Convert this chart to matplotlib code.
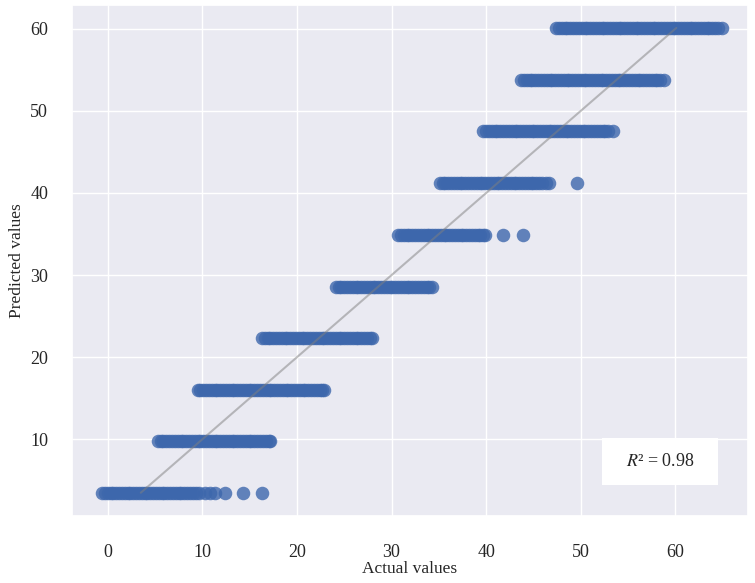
import matplotlib
matplotlib.use('Agg')
import matplotlib.pyplot as plt
from matplotlib.patches import Rectangle
import seaborn as sns

# predicted levels (y) and the actual values (x) seen at each level
levels = [3.5, 9.8, 16.0, 22.3, 28.6, 34.9, 41.2, 47.5, 53.8, 60.1]

actual_by_level = [
    [-0.6, -0.3, 0.0, 0.3, 0.6, 0.9, 1.2, 1.5, 1.8, 2.1, 2.4, 2.7, 3.0, 3.3, 3.6,
     3.9, 4.2, 4.5, 4.8, 5.1, 5.4, 5.7, 6.0, 6.3, 6.6, 6.9, 7.2, 7.5, 7.8, 8.1,
     8.4, 8.7, 9.0, 9.3, 9.7, 10.3, 10.8, 11.3, 12.4, 14.3, 16.3],
    [5.3, 5.6, 5.9, 6.2, 6.5, 6.8, 7.1, 7.4, 7.7, 8.0, 8.3, 8.6, 8.9, 9.2, 9.5,
     9.8, 10.1, 10.4, 10.7, 11.0, 11.3, 11.6, 11.9, 12.2, 12.5, 12.8, 13.1, 13.4,
     13.7, 14.0, 14.3, 14.6, 14.9, 15.2, 15.5, 15.8, 16.1, 16.4, 16.7, 17.0, 17.2],
    [9.5, 9.8, 10.1, 10.4, 10.7, 11.0, 11.3, 11.6, 11.9, 12.2, 12.5, 12.8, 13.1,
     13.4, 13.7, 14.0, 14.3, 14.6, 14.9, 15.2, 15.5, 15.8, 16.1, 16.4, 16.7, 17.0,
     17.3, 17.6, 17.9, 18.2, 18.5, 18.8, 19.1, 19.4, 19.7, 20.0, 20.3, 20.6, 20.9,
     21.2, 21.5, 21.8, 22.1, 22.4, 22.7, 22.9],
    [16.3, 16.6, 16.9, 17.2, 17.5, 17.8, 18.1, 18.4, 18.7, 19.0, 19.3, 19.6, 19.9,
     20.2, 20.5, 20.8, 21.1, 21.4, 21.7, 22.0, 22.3, 22.6, 22.9, 23.2, 23.5, 23.8,
     24.1, 24.4, 24.7, 25.0, 25.3, 25.6, 25.9, 26.2, 26.5, 26.8, 27.1, 27.4, 27.7, 27.9],
    [24.1, 24.4, 24.7, 25.0, 25.3, 25.6, 25.9, 26.2, 26.5, 26.8, 27.1, 27.4, 27.7,
     28.0, 28.3, 28.6, 28.9, 29.2, 29.5, 29.8, 30.1, 30.4, 30.7, 31.0, 31.3, 31.6,
     31.9, 32.2, 32.5, 32.8, 33.1, 33.4, 33.7, 34.0, 34.3],
    [30.7, 31.0, 31.3, 31.6, 31.9, 32.2, 32.5, 32.8, 33.1, 33.4, 33.7, 34.0, 34.3,
     34.6, 34.9, 35.2, 35.5, 35.8, 36.1, 36.4, 36.7, 37.0, 37.3, 37.6, 37.9, 38.2,
     38.5, 38.8, 39.1, 39.4, 39.7, 39.9, 41.8, 43.9],
    [35.1, 35.4, 35.7, 36.0, 36.3, 36.6, 36.9, 37.2, 37.5, 37.8, 38.1, 38.4, 38.7,
     39.0, 39.3, 39.6, 39.9, 40.2, 40.5, 40.8, 41.1, 41.4, 41.7, 42.0, 42.3, 42.6,
     42.9, 43.2, 43.5, 43.8, 44.1, 44.4, 44.7, 45.0, 45.3, 45.6, 45.9, 46.3, 46.6, 49.6],
    [39.7, 40.0, 40.3, 40.6, 40.9, 41.2, 41.5, 41.8, 42.1, 42.4, 42.7, 43.0, 43.3,
     43.6, 43.9, 44.2, 44.5, 44.8, 45.1, 45.4, 45.7, 46.0, 46.3, 46.6, 46.9, 47.2,
     47.5, 47.8, 48.1, 48.4, 48.7, 49.0, 49.3, 49.6, 49.9, 50.2, 50.5, 50.8, 51.1,
     51.4, 51.7, 52.0, 52.3, 52.6, 52.9, 53.4],
    [43.7, 44.0, 44.3, 44.6, 44.9, 45.2, 45.5, 45.8, 46.1, 46.4, 46.7, 47.0, 47.3,
     47.6, 47.9, 48.2, 48.5, 48.8, 49.1, 49.4, 49.7, 50.0, 50.3, 50.6, 50.9, 51.2,
     51.5, 51.8, 52.1, 52.4, 52.7, 53.0, 53.3, 53.6, 53.9, 54.2, 54.5, 54.8, 55.1,
     55.4, 55.7, 56.0, 56.3, 56.6, 56.9, 57.2, 57.5, 57.8, 58.1, 58.4, 58.8],
    [47.4, 47.7, 48.0, 48.3, 48.6, 48.9, 49.2, 49.5, 49.8, 50.1, 50.4, 50.7, 51.0,
     51.3, 51.6, 51.9, 52.2, 52.5, 52.8, 53.1, 53.4, 53.7, 54.0, 54.3, 54.6, 54.9,
     55.2, 55.5, 55.8, 56.1, 56.4, 56.7, 57.0, 57.3, 57.6, 57.9, 58.2, 58.5, 58.8,
     59.1, 59.4, 59.7, 60.0, 60.3, 60.6, 60.9, 61.2, 61.5, 61.8, 62.1, 62.4, 62.7,
     63.0, 63.3, 63.6, 63.9, 64.2, 64.5, 64.9],
]
r2_text = '$R$² = 0.98'

actual = []
predicted = []
for lev, xs in zip(levels, actual_by_level):
    actual += xs
    predicted += [lev] * len(xs)

sns.set_theme(style='darkgrid')
plt.rcParams['font.family'] = ['Liberation Serif', 'DejaVu Serif']
plt.rcParams['mathtext.fontset'] = 'stix'

fig = plt.figure(figsize=(7.55, 5.83), dpi=100)
ax = fig.add_axes([0.095, 0.115, 0.896, 0.8765])

ax.scatter(actual, predicted, s=95, color='#3D67AC', alpha=0.8, linewidth=0)
ax.plot([min(predicted), max(predicted)], [min(predicted), max(predicted)],
        color='grey', alpha=0.5, linewidth=1.5)

ax.set_xlim(-3.8, 67.7)
ax.set_ylim(0.67, 62.9)
ax.set_xticks([0, 10, 20, 30, 40, 50, 60])
ax.set_yticks([10, 20, 30, 40, 50, 60])
ax.tick_params(labelsize=13)
ax.tick_params(axis='x', pad=14)
ax.tick_params(axis='y', pad=11)
ax.set_xlabel('Actual values', fontsize=12.5, labelpad=0)
ax.set_ylabel('Predicted values', fontsize=12.5, labelpad=4)

# white box behind the R² note
ax.add_patch(Rectangle((0.784, 0.061), 0.172, 0.092, transform=ax.transAxes,
                       facecolor='white', edgecolor='none', zorder=3))
ax.text(0.870, 0.106, r2_text, transform=ax.transAxes, fontsize=13,
        ha='center', va='center', zorder=4)

fig.savefig('out.png', dpi=100)
